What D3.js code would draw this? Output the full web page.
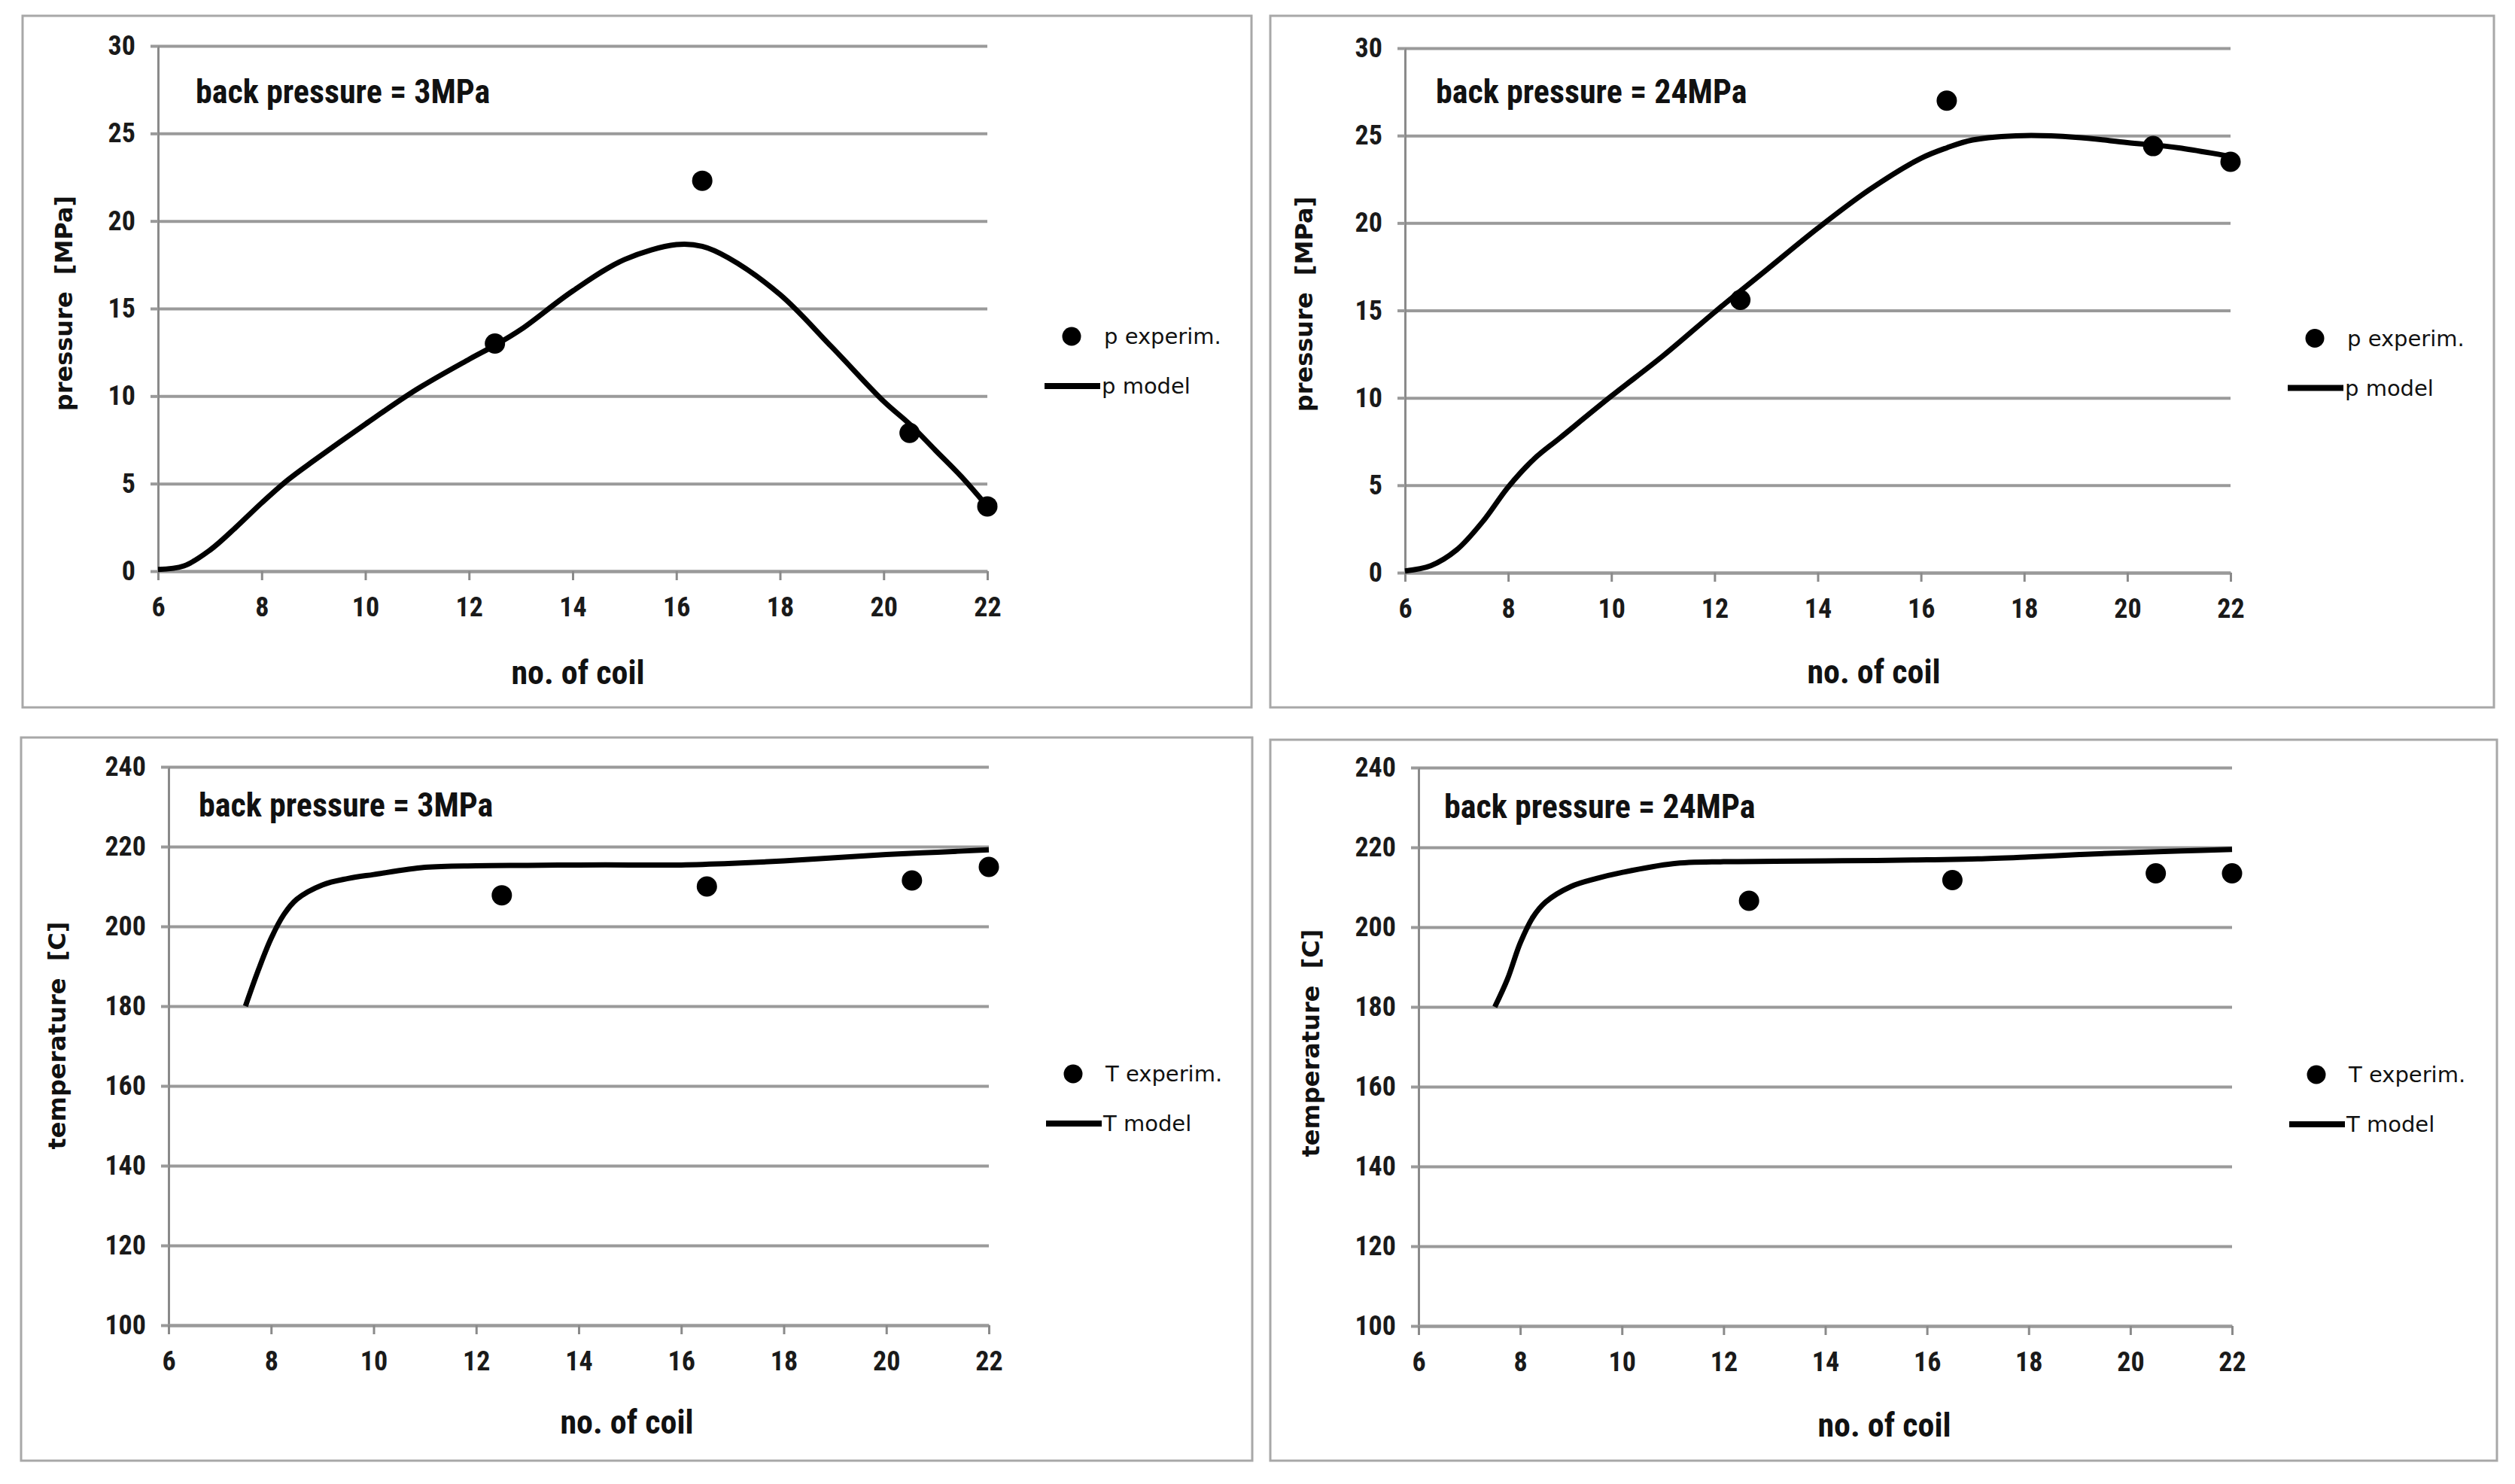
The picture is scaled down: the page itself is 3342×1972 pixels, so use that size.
<!DOCTYPE html>
<html>
<head>
<meta charset="utf-8">
<style>
  body { margin: 0; background: #fff; }
  .tick text { font-family: "Liberation Sans Narrow", "Roboto Condensed", "Liberation Sans", sans-serif; font-weight: bold; font-size: 36px; fill: #1a1a1a; }
</style>
</head>
<body>
<svg id="chart" width="3342" height="1972"></svg>
<script src="https://d3js.org/d3.v7.min.js"></script>
<script>
// coil numbers where the experiment was measured (same in every panel)
var expCoil = [12.5, 16.5, 20.5, 22];

// pressure, back pressure 3MPa
var pExp3 = [13.0, 22.3, 7.9, 3.7];
var pModelCoil3 = [6, 6.5, 7, 7.5, 8, 8.5, 9, 10, 11, 12, 12.5, 13, 14, 15, 16, 16.5, 17, 18, 19, 20, 20.5, 21, 21.5, 22];
var pModel3 = [0.1, 0.3, 1.2, 2.5, 3.9, 5.2, 6.3, 8.4, 10.4, 12.1, 12.9, 13.8, 16.0, 17.8, 18.65, 18.55, 17.9, 15.8, 12.8, 9.7, 8.4, 6.9, 5.4, 3.7];

// pressure, back pressure 24MPa
var pExp24 = [15.6, 27.0, 24.4, 23.5];
var pModelCoil24 = [6, 6.5, 7, 7.5, 8, 8.5, 9, 10, 11, 12, 13, 14, 15, 16, 16.5, 17, 18, 19, 20, 21, 22];
var pModel24 = [0.1, 0.4, 1.3, 2.9, 4.9, 6.5, 7.7, 10.1, 12.4, 14.9, 17.3, 19.7, 21.9, 23.7, 24.3, 24.75, 25.0, 24.9, 24.6, 24.3, 23.8];

// temperature, back pressure 3MPa
var tExp3 = [207.8, 210.0, 211.5, 214.9];
var tModelCoil3 = [7.5, 7.75, 8, 8.25, 8.5, 9, 9.5, 10, 11, 12, 13, 14, 15, 16, 17, 18, 19, 20, 21, 22];
var tModel3 = [180, 189, 197, 203, 206.8, 210.4, 212, 213, 214.8, 215.2, 215.3, 215.4, 215.4, 215.4, 215.8, 216.4, 217.2, 218, 218.6, 219.2];

// temperature, back pressure 24MPa
var tExp24 = [206.6, 211.8, 213.5, 213.5];
var tModelCoil24 = [7.5, 7.75, 8, 8.25, 8.5, 9, 9.5, 10, 11, 12, 13, 14, 15, 16, 17, 18, 19, 20, 21, 22];
var tModel24 = [180, 187, 196, 202.5, 206.3, 210.2, 212.2, 213.7, 215.9, 216.4, 216.5, 216.6, 216.7, 216.9, 217.1, 217.6, 218.2, 218.7, 219.1, 219.5];

var xTicks = [6, 8, 10, 12, 14, 16, 18, 20, 22];
var pTicks = [0, 5, 10, 15, 20, 25, 30];
var tTicks = [100, 120, 140, 160, 180, 200, 220, 240];

var svg = d3.select("#chart");

var grey = "#9a9a9a";
var narrow = '"Liberation Sans Narrow", "Roboto Condensed", "Liberation Sans", sans-serif';

var panels = [
  { frame: [30, 21, 1633, 919], plot: [210, 1312, 61, 759], yTicks: pTicks,
    expY: pExp3, modelX: pModelCoil3, modelY: pModel3,
    note: "back pressure = 3MPa", noteXY: [260, 122],
    yTitle: "pressure  [MPa]", yTitleXY: [85, 403], xTitleXY: [768, 894],
    expLabel: "p experim.", modelLabel: "p model" },
  { frame: [1688, 21, 1626, 919], plot: [1867, 2964, 64, 761], yTicks: pTicks,
    expY: pExp24, modelX: pModelCoil24, modelY: pModel24,
    note: "back pressure = 24MPa", noteXY: [1908, 122],
    yTitle: "pressure  [MPa]", yTitleXY: [1733, 404], xTitleXY: [2490, 893],
    expLabel: "p experim.", modelLabel: "p model" },
  { frame: [28, 980, 1636, 961], plot: [224, 1314, 1019, 1761], yTicks: tTicks,
    expY: tExp3, modelX: tModelCoil3, modelY: tModel3,
    note: "back pressure = 3MPa", noteXY: [264, 1070],
    yTitle: "temperature  [C]", yTitleXY: [76, 1376], xTitleXY: [833, 1890],
    expLabel: "T experim.", modelLabel: "T model" },
  { frame: [1688, 983, 1630, 958], plot: [1885, 2966, 1020, 1762], yTicks: tTicks,
    expY: tExp24, modelX: tModelCoil24, modelY: tModel24,
    note: "back pressure = 24MPa", noteXY: [1919, 1072],
    yTitle: "temperature  [C]", yTitleXY: [1742, 1386], xTitleXY: [2504, 1894],
    expLabel: "T experim.", modelLabel: "T model" }
];

panels.forEach(function (p) {
  var l = p.plot[0], r = p.plot[1], t = p.plot[2], b = p.plot[3];

  svg.append("rect")
    .attr("x", p.frame[0]).attr("y", p.frame[1])
    .attr("width", p.frame[2]).attr("height", p.frame[3])
    .attr("fill", "#fff").attr("stroke", "#a8a8a8").attr("stroke-width", 3);

  var x = d3.scaleLinear().domain([6, 22]).range([l, r]);
  var y = d3.scaleLinear().domain(d3.extent(p.yTicks)).range([b, t]);

  // horizontal gridlines
  var grid = svg.append("g").attr("transform", "translate(" + l + ",0)")
    .call(d3.axisLeft(y).tickValues(p.yTicks).tickSize(-(r - l)).tickFormat(""));
  grid.select(".domain").remove();
  grid.selectAll("line").attr("stroke", grey).attr("stroke-width", 4);

  // y axis with outside ticks
  var ya = svg.append("g").attr("transform", "translate(" + l + ",0)")
    .call(d3.axisLeft(y).tickValues(p.yTicks).tickSize(10).tickSizeOuter(0).tickPadding(20));
  ya.select(".domain").attr("stroke", "#8a8a8a").attr("stroke-width", 3);
  ya.selectAll("line").attr("stroke", grey).attr("stroke-width", 4);

  // x axis
  var xa = svg.append("g").attr("transform", "translate(0," + b + ")")
    .call(d3.axisBottom(x).tickValues(xTicks).tickSize(12).tickSizeOuter(0).tickPadding(22));
  xa.select(".domain").attr("stroke", grey).attr("stroke-width", 4);
  xa.selectAll("line").attr("stroke", "#8a8a8a").attr("stroke-width", 3);

  // model curve
  var pts = p.modelX.map(function (c, i) { return [c, p.modelY[i]]; });
  svg.append("path")
    .datum(pts)
    .attr("fill", "none")
    .attr("stroke", "#000")
    .attr("stroke-width", 7)
    .attr("stroke-linejoin", "round")
    .attr("d", d3.line()
      .x(function (d) { return x(d[0]); })
      .y(function (d) { return y(d[1]); })
      .curve(d3.curveCatmullRom.alpha(0.5)));

  // experimental points
  svg.append("g").selectAll("circle")
    .data(expCoil)
    .join("circle")
    .attr("cx", function (d) { return x(d); })
    .attr("cy", function (d, i) { return y(p.expY[i]); })
    .attr("r", 13.5)
    .attr("fill", "#000");

  // annotation
  svg.append("text")
    .attr("x", p.noteXY[0]).attr("y", p.noteXY[1])
    .attr("dominant-baseline", "central")
    .style("font-family", narrow).style("font-weight", "bold").style("font-size", "44px")
    .attr("fill", "#111")
    .text(p.note);

  // axis titles
  svg.append("text")
    .attr("x", p.xTitleXY[0]).attr("y", p.xTitleXY[1])
    .attr("text-anchor", "middle").attr("dominant-baseline", "central")
    .style("font-family", narrow).style("font-weight", "bold").style("font-size", "44px")
    .attr("fill", "#111")
    .text("no. of coil");

  svg.append("text")
    .attr("transform", "translate(" + p.yTitleXY[0] + "," + p.yTitleXY[1] + ") rotate(-90)")
    .attr("text-anchor", "middle").attr("dominant-baseline", "central")
    .style("font-family", '"DejaVu Sans", Verdana, sans-serif').style("font-weight", "bold").style("font-size", "32px")
    .style("white-space", "pre")
    .attr("fill", "#111")
    .text(p.yTitle);

  // legend
  var mid = (t + b) / 2;
  svg.append("circle").attr("cx", r + 112).attr("cy", mid + 37).attr("r", 12.5).attr("fill", "#000");
  svg.append("text")
    .attr("x", r + 155).attr("y", mid + 37)
    .attr("dominant-baseline", "central")
    .style("font-family", '"DejaVu Sans", Verdana, sans-serif').style("font-size", "29px")
    .attr("fill", "#111")
    .text(p.expLabel);
  svg.append("line")
    .attr("x1", r + 76).attr("x2", r + 150)
    .attr("y1", mid + 103).attr("y2", mid + 103)
    .attr("stroke", "#000").attr("stroke-width", 8);
  svg.append("text")
    .attr("x", r + 152).attr("y", mid + 103)
    .attr("dominant-baseline", "central")
    .style("font-family", '"DejaVu Sans", Verdana, sans-serif').style("font-size", "29px")
    .attr("fill", "#111")
    .text(p.modelLabel);
});
</script>
</body>
</html>
